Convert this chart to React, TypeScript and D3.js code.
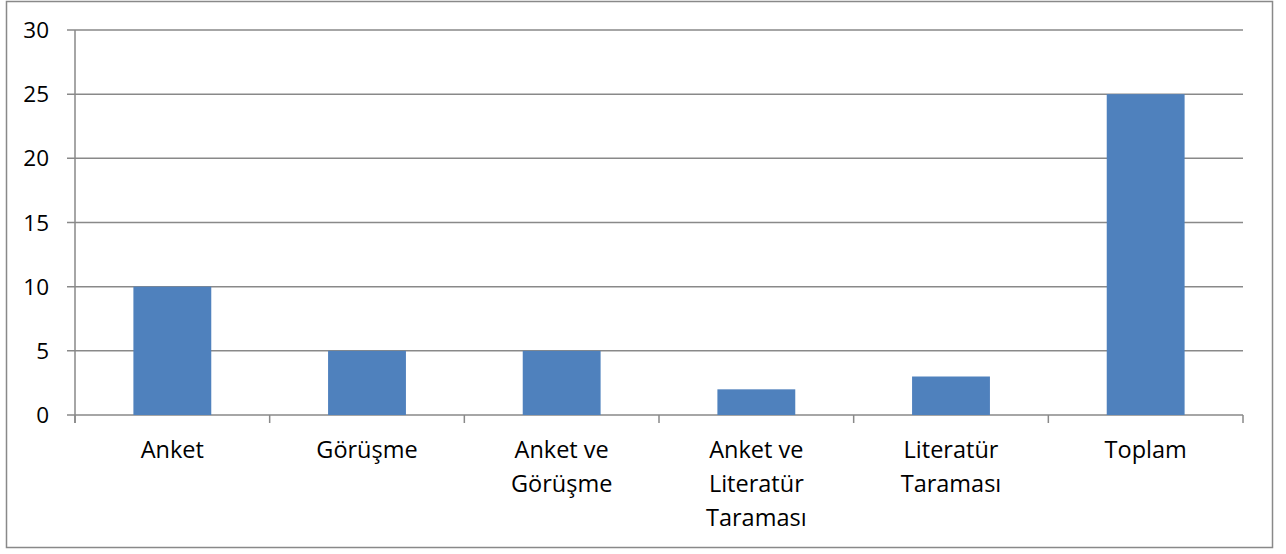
import React from 'react'
import * as d3 from 'd3'

const categories = ['Anket', 'Görüşme', 'Anket ve Görüşme', 'Anket ve Literatür Taraması', 'Literatür Taraması', 'Toplam']
const labelLines = [['Anket'], ['Görüşme'], ['Anket ve', 'Görüşme'], ['Anket ve', 'Literatür', 'Taraması'], ['Literatür', 'Taraması'], ['Toplam']]
const values = [10, 5, 5, 2, 3, 25]
const yTicks = [0, 5, 10, 15, 20, 25, 30]

const W = 1286
const H = 554
const margin = { left: 75, right: 43, top: 30, bottom: 139 }
const FONT = "'Open Sans', sans-serif"

export default function App() {
  const x = d3
    .scaleBand<string>()
    .domain(categories)
    .range([margin.left, W - margin.right])
    .paddingInner(0.6)
    .paddingOuter(0.3)
  const band = (W - margin.left - margin.right) / categories.length
  const y = d3.scaleLinear().domain([0, 30]).range([H - margin.bottom, margin.top])

  return (
    <svg width={W} height={H} style={{ position: 'absolute', left: 0, top: 0 }}>
      <rect x={6.5} y={1.5} width={1266} height={546} fill="white" stroke="#898989" strokeWidth={1.5} />
      {yTicks.map((t) => (
        <g key={t}>
          <line x1={67} x2={W - margin.right} y1={y(t)} y2={y(t)} stroke="#898989" strokeWidth={1.5} />
          <text x={49} y={y(t)} dy="0.36em" textAnchor="end" fontFamily={FONT} fontSize={22.5} fill="#000">
            {t}
          </text>
        </g>
      ))}
      <line x1={margin.left} x2={margin.left} y1={y(30)} y2={y(0) + 8} stroke="#898989" strokeWidth={1.5} />
      {d3.range(categories.length + 1).map((i) => (
        <line
          key={i}
          x1={margin.left + i * band}
          x2={margin.left + i * band}
          y1={y(0)}
          y2={y(0) + 8}
          stroke="#898989"
          strokeWidth={1.5}
        />
      ))}
      {categories.map((c, i) => (
        <rect key={c} x={x(c)} y={y(values[i])} width={x.bandwidth()} height={y(0) - y(values[i])} fill="#4F81BD" />
      ))}
      {categories.map((c, i) => (
        <text key={c} fontFamily={FONT} fontSize={23.5} textAnchor="middle" fill="#000">
          {labelLines[i].map((l, j) => (
            <tspan key={j} x={(x(c) ?? 0) + x.bandwidth() / 2} y={458 + j * 34}>
              {l}
            </tspan>
          ))}
        </text>
      ))}
    </svg>
  )
}
